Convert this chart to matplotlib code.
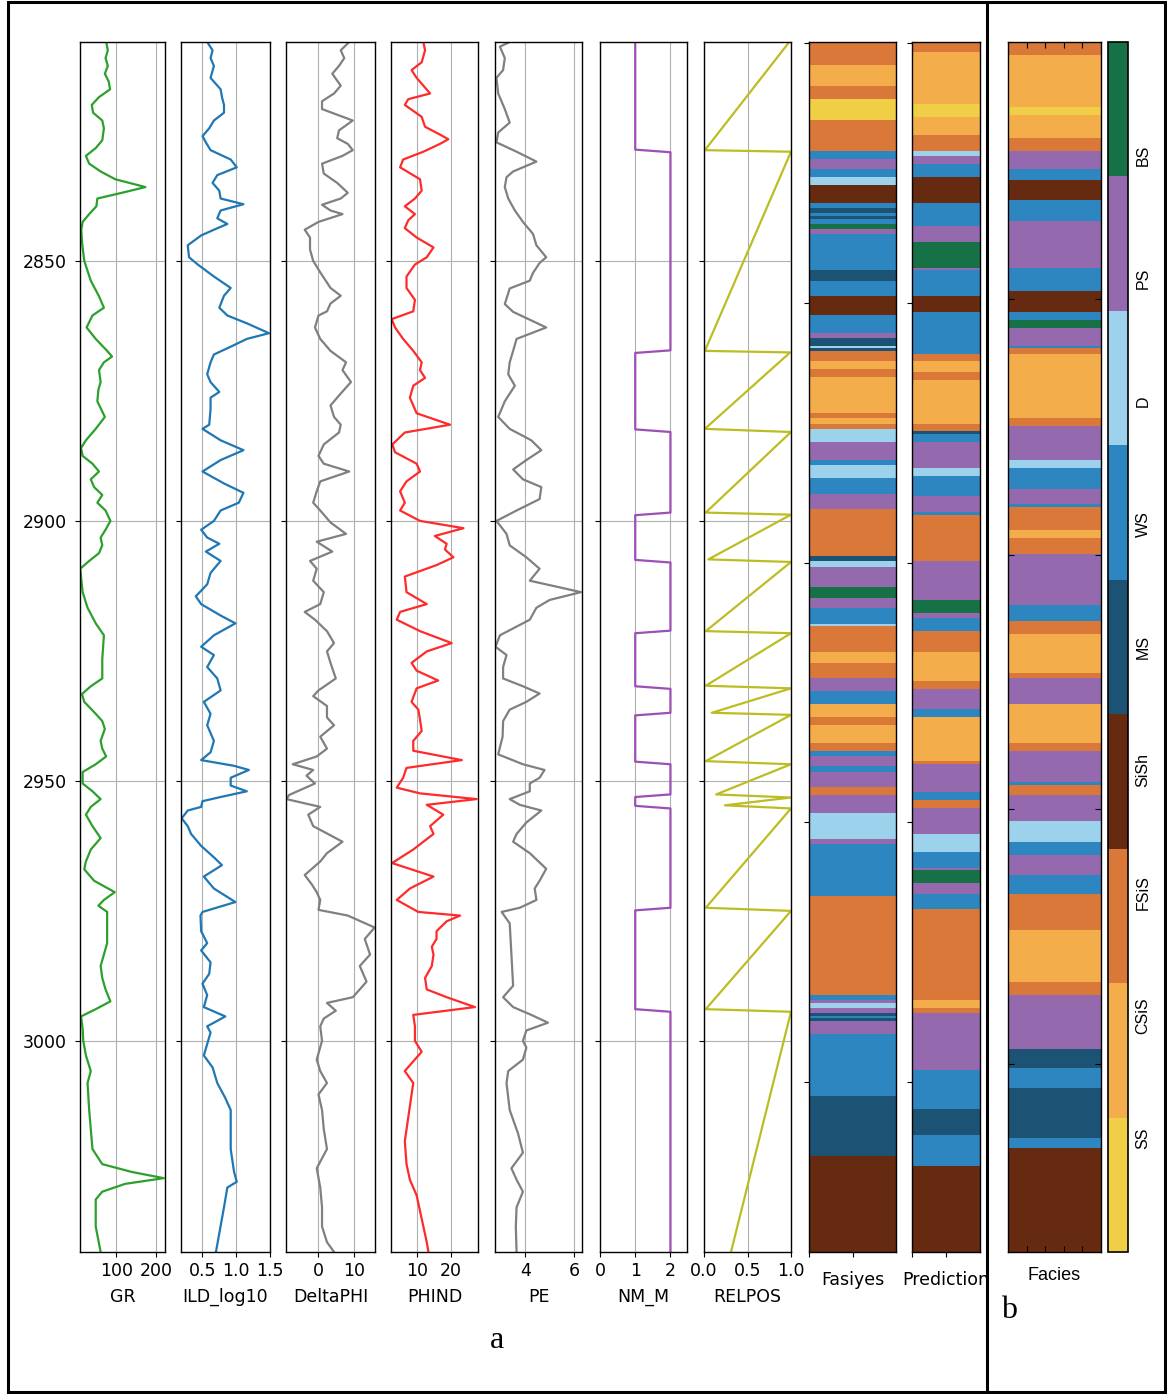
import numpy as np
import matplotlib
matplotlib.use("Agg")
import matplotlib.pyplot as plt
from matplotlib import colors
from matplotlib.lines import Line2D
from matplotlib.patches import Rectangle
from matplotlib.transforms import Bbox, TransformedBbox

W, H, DPI = 1167, 1394, 100
DEPTH_TOP, DEPTH_BOT = 2807.9, 3040.6
YTICKS = [2850, 2900, 2950, 3000]

FACIES_NAMES = ["SS", "CSiS", "FSiS", "SiSh", "MS", "WS", "D", "PS", "BS"]
FACIES_COLORS = ["#F0CE46", "#F3AD4B", "#DA783A", "#652A0F", "#1C5274",
                 "#2E86C1", "#9DD2EC", "#9569AE", "#167246"]

# ---- well logs (depth, value) ----
GR_DEPTH = [2807.9, 2809.5, 2811.0, 2812.5, 2814.0, 2815.5, 2817.0, 2818.5, 2820.0, 2821.5,
            2823.0, 2824.5, 2826.8, 2828.3, 2829.8, 2831.3, 2832.8, 2834.3, 2835.8, 2836.9,
            2838.0, 2839.5, 2841.0, 2842.5, 2844.0, 2846.3, 2850.0, 2853.8, 2856.8, 2859.0,
            2860.5, 2862.8, 2865.0, 2867.3, 2868.4, 2869.5, 2871.0, 2873.3, 2874.8, 2877.0,
            2880.0, 2882.3, 2884.5, 2886.0, 2887.5, 2889.0, 2890.5, 2892.0, 2893.5, 2895.0,
            2896.5, 2898.0, 2900.0, 2901.7, 2903.2, 2904.7, 2906.2, 2907.7, 2909.2, 2910.7,
            2913.7, 2916.7, 2919.7, 2922.0, 2926.6, 2930.3, 2931.8, 2933.3, 2934.8, 2937.1,
            2938.5, 2940.0, 2942.3, 2943.8, 2945.3, 2946.8, 2948.3, 2950.5, 2952.0, 2953.5,
            2955.0, 2956.5, 2958.7, 2961.0, 2963.2, 2965.5, 2967.0, 2969.2, 2971.4, 2972.9,
            2974.0, 2975.2, 2977.4, 2981.2, 2983.4, 2985.6, 2987.9, 2990.1, 2992.4, 2993.9,
            2995.3, 2997.6, 3000.0, 3002.8, 3005.8, 3008.1, 3013.3, 3020.8, 3023.7, 3025.2,
            3026.4, 3027.5, 3029.0, 3030.5, 3035.7, 3040.6]
GR = [74.6, 78.7, 73.0, 78.7, 71.3, 81.0, 84.4, 56.6, 38.5, 41.8,
      64.8, 68.9, 64.8, 48.4, 23.8, 32.0, 60.7, 97.5, 173.0, 114.0,
      52.5, 50.0, 32.0, 15.6, 12.3, 13.9, 19.7, 36.0, 56.6, 68.9,
      40.2, 25.5, 48.4, 77.0, 89.3, 68.9, 56.6, 60.7, 55.0, 52.5,
      71.3, 48.4, 23.8, 11.5, 15.6, 40.2, 56.6, 36.0, 44.3, 64.8,
      52.5, 73.0, 85.2, 73.0, 60.7, 64.8, 56.6, 32.0, 9.5, 11.5,
      15.6, 27.9, 48.4, 68.9, 64.8, 64.8, 36.0, 13.9, 19.7, 48.4,
      64.8, 71.3, 60.7, 64.8, 74.6, 48.4, 15.6, 15.6, 40.2, 60.7,
      36.0, 23.8, 40.2, 60.7, 36.0, 23.8, 19.7, 44.3, 96.0, 68.9,
      55.0, 77.0, 77.0, 77.0, 68.9, 60.7, 64.8, 73.0, 85.2, 48.4,
      11.5, 15.6, 17.2, 23.8, 36.0, 27.9, 32.0, 40.2, 64.8, 138.5,
      218.9, 122.0, 64.8, 48.4, 48.4, 60.7]

ILD_DEPTH = [2807.9, 2809.5, 2811.0, 2812.5, 2814.8, 2817.0, 2818.5, 2820.0, 2821.5, 2823.0,
             2824.5, 2826.0, 2827.2, 2828.7, 2830.5, 2832.0, 2833.5, 2835.0, 2836.5, 2838.0,
             2839.1, 2840.3, 2841.8, 2842.9, 2844.0, 2845.1, 2847.0, 2849.3, 2850.7, 2853.0,
             2855.2, 2856.7, 2859.0, 2860.5, 2862.0, 2863.9, 2865.0, 2866.5, 2868.0, 2869.5,
             2871.8, 2873.3, 2875.2, 2876.3, 2878.5, 2881.5, 2882.3, 2884.5, 2886.4, 2888.3,
             2890.5, 2892.8, 2894.6, 2896.5, 2898.0, 2900.0, 2901.7, 2903.2, 2904.4, 2905.9,
             2907.7, 2910.0, 2912.2, 2914.5, 2916.0, 2918.2, 2919.7, 2922.0, 2924.2, 2925.8,
             2928.1, 2930.3, 2932.6, 2934.8, 2937.1, 2939.3, 2942.3, 2944.5, 2946.0, 2947.1,
             2947.9, 2949.4, 2950.9, 2952.0, 2953.1, 2953.9, 2955.0, 2955.7, 2957.2, 2958.7,
             2960.2, 2962.5, 2964.7, 2966.2, 2968.4, 2970.7, 2973.3, 2975.2, 2975.9, 2978.9,
             2981.2, 2982.6, 2984.9, 2987.1, 2989.0, 2991.2, 2993.5, 2995.3, 2997.2, 2998.4,
             3000.6, 3002.8, 3005.1, 3008.1, 3011.0, 3013.3, 3020.8, 3025.2, 3027.1, 3028.2,
             3032.0, 3040.6]
ILD = [0.57, 0.65, 0.62, 0.67, 0.62, 0.77, 0.79, 0.82, 0.82, 0.67,
       0.60, 0.50, 0.55, 0.62, 0.92, 1.01, 0.72, 0.65, 0.75, 0.77,
       1.11, 0.77, 0.72, 0.87, 0.67, 0.48, 0.28, 0.30, 0.43, 0.67,
       0.92, 0.82, 0.75, 0.87, 1.16, 1.49, 1.16, 0.92, 0.67, 0.62,
       0.57, 0.62, 0.75, 0.62, 0.62, 0.60, 0.50, 0.77, 1.11, 0.77,
       0.50, 0.82, 1.11, 1.04, 0.77, 0.67, 0.48, 0.57, 0.75, 0.55,
       0.77, 0.62, 0.57, 0.40, 0.48, 0.77, 0.99, 0.67, 0.48, 0.67,
       0.57, 0.72, 0.77, 0.52, 0.62, 0.57, 0.67, 0.62, 0.48, 0.97,
       1.19, 0.92, 0.92, 1.16, 0.77, 0.50, 0.48, 0.28, 0.19, 0.28,
       0.33, 0.48, 0.67, 0.79, 0.52, 0.67, 0.99, 0.50, 0.47, 0.48,
       0.57, 0.48, 0.62, 0.60, 0.50, 0.57, 0.52, 0.84, 0.57, 0.62,
       0.57, 0.52, 0.65, 0.72, 0.84, 0.92, 0.92, 0.97, 1.01, 0.87,
       0.82, 0.70]

DPHI_DEPTH = [2807.9, 2809.5, 2811.0, 2812.5, 2814.0, 2816.3, 2817.8, 2819.3, 2820.8, 2823.0,
              2824.9, 2826.4, 2827.5, 2828.7, 2829.8, 2831.3, 2833.2, 2835.0, 2836.9, 2838.0,
              2839.2, 2840.3, 2841.0, 2842.5, 2844.0, 2845.5, 2847.8, 2850.0, 2852.2, 2855.2,
              2856.7, 2858.2, 2859.7, 2860.5, 2862.8, 2865.0, 2867.3, 2869.5, 2871.0, 2873.3,
              2875.5, 2877.8, 2880.0, 2881.5, 2883.0, 2885.3, 2887.5, 2889.0, 2890.5, 2892.4,
              2894.3, 2896.5, 2898.0, 2900.3, 2902.5, 2904.0, 2905.9, 2907.7, 2909.2, 2911.5,
              2913.7, 2916.0, 2917.5, 2919.0, 2921.2, 2923.5, 2925.1, 2927.3, 2930.3, 2932.6,
              2933.7, 2935.6, 2937.8, 2939.3, 2941.5, 2943.8, 2945.3, 2946.8, 2947.9, 2949.0,
              2950.5, 2952.7, 2953.5, 2955.0, 2956.5, 2958.7, 2961.7, 2963.9, 2965.5, 2968.1,
              2969.9, 2971.4, 2972.9, 2974.8, 2975.9, 2978.2, 2980.4, 2983.4, 2985.6, 2988.6,
              2990.1, 2991.6, 2992.7, 2994.2, 2995.7, 2997.2, 3000.0, 3003.6, 3005.8, 3008.1,
              3010.3, 3013.3, 3017.0, 3020.8, 3024.5, 3028.2, 3032.0, 3035.7, 3038.7, 3040.6]
DPHI = [8.7, 6.3, 7.3, 5.8, 3.9, 6.3, 4.4, 1.0, 1.0, 9.7,
        5.8, 5.3, 8.3, 9.7, 6.8, 1.0, 1.5, 5.3, 8.3, 6.3,
        1.0, 3.4, 6.8, 0.0, -3.9, -2.4, -2.4, -1.5, 0.5, 3.4,
        6.3, 3.4, 2.4, 0.0, -1.0, 0.5, 3.4, 7.8, 6.8, 9.2,
        6.3, 3.4, 4.4, 6.3, 5.8, 1.5, 0.0, 1.5, 8.7, 0.5,
        -0.5, -1.5, 0.5, 3.4, 7.8, -0.5, 3.9, -2.4, -0.5, -1.5,
        1.5, 0.5, -3.9, -1.0, 2.4, 4.4, 2.4, 3.4, 4.9, 0.0,
        -1.5, 2.4, 2.4, 4.4, 0.5, 2.4, -0.5, -7.3, -1.5, -3.4,
        -1.0, -8.3, -9.1, 0.5, -2.9, -1.5, 6.8, 2.4, 0.5, -3.9,
        -1.9, -0.5, 0.5, 0.0, 8.3, 15.9, 13.1, 14.6, 11.7, 13.6,
        11.7, 9.7, 2.4, 4.9, 1.5, 0.5, 1.0, -0.5, 0.5, 2.4,
        0.0, 1.0, 1.5, 2.4, -0.5, 0.5, 1.0, 1.0, 2.4, 4.4]

PHIND_DEPTH = [2807.9, 2809.5, 2811.8, 2813.3, 2814.8, 2816.3, 2817.8, 2818.9, 2820.0, 2822.3,
               2824.2, 2825.7, 2826.6, 2827.5, 2829.0, 2830.5, 2832.0, 2834.3, 2836.5, 2838.0,
               2839.5, 2841.0, 2842.2, 2843.7, 2845.5, 2847.4, 2849.3, 2850.7, 2853.0, 2855.2,
               2857.5, 2859.7, 2861.2, 2862.8, 2865.0, 2867.3, 2869.5, 2871.0, 2872.5, 2874.0,
               2876.3, 2879.3, 2881.5, 2883.0, 2885.3, 2886.8, 2889.0, 2890.5, 2892.4, 2894.3,
               2896.5, 2898.0, 2900.0, 2901.4, 2902.9, 2904.4, 2905.5, 2907.0, 2908.5, 2910.7,
               2913.7, 2916.0, 2917.5, 2919.0, 2921.2, 2923.5, 2925.1, 2927.3, 2928.8, 2930.7,
               2932.2, 2934.8, 2936.3, 2938.2, 2940.4, 2942.3, 2944.2, 2946.0, 2947.5, 2949.4,
               2951.3, 2952.4, 2953.5, 2954.6, 2956.5, 2958.7, 2960.2, 2963.2, 2965.8, 2968.4,
               2970.7, 2972.9, 2975.2, 2975.9, 2977.0, 2978.9, 2980.4, 2981.9, 2983.4, 2985.6,
               2987.9, 2990.1, 2991.6, 2993.5, 2995.0, 2997.2, 3000.0, 3002.1, 3004.3, 3005.8,
               3008.1, 3010.3, 3014.8, 3019.3, 3023.7, 3026.7, 3029.7, 3034.2, 3038.7, 3040.6]
PHIND = [11.8, 12.3, 11.3, 8.3, 9.8, 11.8, 13.8, 7.3, 6.3, 11.3,
         12.3, 16.7, 19.2, 16.7, 11.8, 5.8, 4.9, 10.8, 11.3, 9.3,
         6.3, 9.3, 7.3, 6.3, 9.8, 14.8, 12.8, 9.3, 6.8, 6.8,
         9.3, 8.8, 2.4, 3.4, 5.8, 8.8, 11.3, 10.8, 12.3, 8.8,
         7.8, 9.8, 19.7, 6.3, 2.6, 3.4, 9.8, 10.8, 6.8, 4.9,
         6.3, 4.9, 10.8, 23.7, 15.2, 18.7, 18.2, 20.7, 15.7, 6.3,
         6.8, 12.8, 4.9, 3.9, 10.8, 20.2, 12.8, 8.3, 9.8, 16.2,
         9.8, 8.3, 10.3, 10.8, 11.3, 8.8, 8.8, 23.2, 6.8, 5.8,
         3.9, 10.8, 27.6, 12.8, 17.7, 13.8, 14.8, 8.8, 2.5, 14.8,
         7.8, 3.9, 10.3, 22.7, 18.7, 15.7, 15.7, 14.3, 14.8, 14.3,
         12.3, 12.8, 18.7, 27.1, 8.8, 9.3, 9.3, 11.3, 8.3, 6.3,
         8.8, 8.3, 7.3, 6.3, 6.8, 7.8, 9.8, 11.3, 12.8, 13.3]

PE_DEPTH = [2807.9, 2808.8, 2811.0, 2813.3, 2814.8, 2817.8, 2820.8, 2823.4, 2825.3, 2827.2,
            2829.0, 2830.9, 2832.8, 2833.9, 2835.8, 2838.0, 2840.3, 2842.5, 2844.8, 2847.0,
            2849.3, 2850.4, 2852.3, 2853.8, 2855.3, 2858.3, 2859.8, 2862.8, 2865.0, 2867.3,
            2869.5, 2871.8, 2874.0, 2877.0, 2880.0, 2882.3, 2884.5, 2886.4, 2888.3, 2890.1,
            2892.0, 2893.5, 2895.8, 2898.0, 2900.0, 2902.5, 2904.7, 2907.0, 2909.2, 2911.5,
            2913.7, 2915.2, 2916.7, 2919.0, 2922.0, 2924.2, 2925.8, 2928.1, 2930.3, 2931.8,
            2933.2, 2934.8, 2936.3, 2938.5, 2941.5, 2944.9, 2946.8, 2947.9, 2949.4, 2950.5,
            2952.0, 2953.5, 2954.6, 2955.7, 2958.0, 2960.2, 2961.7, 2963.9, 2966.9, 2969.2,
            2970.7, 2972.9, 2974.4, 2975.2, 2977.4, 2983.4, 2989.4, 2991.6, 2993.5, 2995.0,
            2996.5, 2998.0, 3000.0, 3001.3, 3003.6, 3005.8, 3008.1, 3013.3, 3017.8, 3021.5,
            3024.5, 3026.7, 3029.0, 3032.0, 3035.7, 3040.6]
PE = [3.36, 2.96, 3.16, 3.09, 2.82, 2.89, 3.16, 3.36, 2.89, 2.82,
      3.64, 4.45, 3.50, 3.23, 3.16, 3.30, 3.57, 3.90, 4.31, 4.45,
      4.85, 4.58, 4.31, 4.18, 3.36, 3.16, 3.50, 4.85, 3.64, 3.50,
      3.36, 3.30, 3.57, 3.16, 2.89, 3.36, 4.24, 4.65, 4.04, 3.50,
      3.90, 4.65, 4.58, 3.64, 2.82, 3.23, 3.36, 4.04, 4.58, 4.18,
      6.27, 4.99, 4.45, 4.18, 2.96, 2.78, 3.23, 3.09, 3.09, 3.90,
      4.58, 4.04, 3.36, 3.09, 3.07, 2.89, 3.90, 4.78, 4.58, 4.18,
      4.18, 3.36, 3.77, 4.65, 4.04, 3.64, 3.50, 4.18, 4.85, 4.58,
      4.38, 4.45, 3.77, 3.03, 3.36, 3.43, 3.50, 3.09, 3.50, 4.24,
      4.92, 4.04, 3.90, 4.04, 3.90, 3.30, 3.23, 3.36, 3.70, 3.90,
      3.43, 3.64, 3.90, 3.64, 3.61, 3.64]

NM_M_DEPTH = [2807.9, 2828.6, 2829.1, 2867.2, 2867.7, 2882.4, 2882.9, 2898.4, 2898.9, 2907.5,
              2908.0, 2921.1, 2921.6, 2931.8, 2932.3, 2936.9, 2937.4, 2946.3, 2946.8, 2952.6,
              2953.1, 2954.8, 2955.3, 2974.4, 2974.9, 2993.9, 2994.4, 3040.6]
NM_M = [1, 1, 2, 2, 1, 1, 2, 2, 1, 1,
        2, 2, 1, 1, 2, 2, 1, 1, 2, 2,
        1, 1, 2, 2, 1, 1, 2, 2]

RELPOS_DEPTH = [2807.9, 2828.7, 2829.0, 2867.3, 2867.6, 2882.3, 2882.9, 2898.4, 2898.8, 2907.4,
                2907.9, 2921.2, 2921.6, 2931.7, 2932.2, 2936.9, 2937.3, 2946.2, 2946.8, 2952.6,
                2953.2, 2954.7, 2955.3, 2974.4, 2975.0, 2993.9, 2994.4, 3040.6]
RELPOS = [0.98, 0.01, 1.0, 0.01, 0.99, 0.01, 1.0, 0.02, 1.0, 0.05,
          1.0, 0.02, 1.0, 0.02, 1.0, 0.09, 1.0, 0.02, 1.0, 0.14,
          1.0, 0.24, 1.0, 0.02, 1.0, 0.02, 1.0, 0.31]

# ---- facies columns: top depth of each band and its facies code (1=SS ... 9=BS) ----
FASIYES_TOP = [2807.9, 2812.1, 2816.0, 2818.6, 2822.5, 2828.9, 2830.1, 2832.2, 2833.5, 2835.0,
               2838.6, 2839.9, 2840.5, 2841.2, 2841.7, 2842.5, 2843.5, 2844.7, 2851.7, 2853.5,
               2856.7, 2860.0, 2863.6, 2864.6, 2866.0, 2866.7, 2867.0, 2869.2, 2870.8, 2872.1,
               2879.3, 2880.3, 2881.1, 2882.1, 2884.6, 2888.2, 2889.3, 2891.8, 2894.6, 2897.8,
               2906.7, 2907.6, 2908.8, 2912.8, 2914.9, 2916.6, 2919.9, 2920.2, 2925.3, 2927.4,
               2930.3, 2932.7, 2935.2, 2937.8, 2939.1, 2942.8, 2944.2, 2945.2, 2947.4, 2948.4,
               2951.0, 2952.7, 2956.2, 2961.2, 2962.0, 2972.0, 2991.3, 2992.0, 2992.9, 2993.6,
               2994.7, 2995.2, 2995.6, 2996.2, 2998.7, 3010.5, 3022.3]
FASIYES = [3, 2, 3, 1, 3, 6, 8, 6, 7, 4,
           6, 5, 6, 5, 6, 9, 8, 6, 5, 6,
           4, 6, 8, 5, 7, 5, 3, 2, 3, 2,
           3, 2, 3, 7, 8, 6, 7, 6, 8, 3,
           5, 7, 8, 9, 8, 6, 7, 3, 2, 3,
           8, 6, 2, 3, 2, 3, 6, 8, 6, 8,
           3, 8, 7, 8, 6, 3, 6, 8, 7, 8,
           5, 6, 5, 8, 6, 5, 4]

PRED_TOP = [2807.9, 2809.8, 2819.6, 2822.1, 2825.7, 2828.9, 2829.6, 2831.0, 2833.9, 2838.5,
            2843.2, 2846.1, 2851.0, 2851.7, 2856.7, 2859.9, 2867.8, 2869.4, 2871.0, 2872.8,
            2881.0, 2882.7, 2883.2, 2884.6, 2889.6, 2891.4, 2895.2, 2898.2, 2898.9, 2907.8,
            2915.3, 2917.8, 2918.9, 2921.4, 2925.3, 2930.6, 2932.4, 2936.4, 2937.5, 2946.1,
            2946.6, 2952.4, 2953.5, 2955.2, 2960.3, 2963.7, 2966.9, 2967.4, 2969.8, 2971.9,
            2974.8, 2992.0, 2993.7, 2994.5, 3005.5, 3013.0, 3018.3, 3024.1]
PRED = [3, 2, 1, 2, 3, 7, 8, 6, 4, 6,
        8, 9, 8, 6, 4, 6, 3, 2, 3, 2,
        3, 5, 6, 8, 7, 6, 8, 6, 3, 8,
        9, 8, 6, 3, 2, 3, 8, 6, 2, 3,
        8, 6, 3, 8, 7, 6, 8, 9, 8, 6,
        3, 2, 3, 8, 6, 5, 6, 4]

FACIES_B_TOP = [2807.9, 2810.0, 2820.0, 2821.7, 2826.3, 2828.8, 2832.4, 2834.1, 2838.1, 2842.2,
                2851.0, 2855.9, 2859.7, 2861.2, 2862.6, 2866.3, 2866.7, 2867.7, 2880.0, 2881.5,
                2888.3, 2889.8, 2893.8, 2896.8, 2897.2, 2901.6, 2903.1, 2906.2, 2916.4, 2919.4,
                2921.6, 2929.1, 2930.2, 2935.0, 2935.4, 2942.9, 2944.3, 2950.2, 2950.6, 2952.7,
                2957.7, 2961.7, 2964.4, 2968.4, 2971.9, 2978.7, 2988.9, 2991.1, 3001.7, 3005.2,
                3009.2, 3018.9, 3020.8]
FACIES_B = [3, 2, 1, 2, 3, 8, 6, 4, 6, 8,
            6, 4, 6, 9, 8, 6, 3, 2, 3, 8,
            7, 6, 8, 6, 3, 2, 3, 8, 6, 3,
            2, 3, 8, 6, 2, 3, 8, 6, 3, 8,
            7, 6, 8, 6, 3, 2, 3, 8, 5, 6,
            5, 6, 4]

plt.rcParams.update({
    "font.family": "DejaVu Sans",
    "font.size": 12.5,
    "axes.linewidth": 1.0,
})

cmap = colors.ListedColormap(FACIES_COLORS)
depth_rows = DEPTH_TOP + 0.5 * np.arange(466)


def column(tops, codes):
    idx = np.searchsorted(tops, depth_rows, side="right") - 1
    return np.asarray(codes)[idx]


def frame(x0, x1, y0=42, y1=1252):
    return [x0 / W, 1 - y1 / H, (x1 - x0) / W, (y1 - y0) / H]


fig = plt.figure(figsize=(W / DPI, H / DPI), dpi=DPI)

logs = [
    ("GR", GR_DEPTH, GR, "#2ca02c", (9, 222), [100, 200], (80, 165)),
    ("ILD_log10", ILD_DEPTH, ILD, "#1f77b4", (0.18, 1.505), [0.5, 1.0, 1.5], (181, 270)),
    ("DeltaPHI", DPHI_DEPTH, DPHI, "0.5", (-9.2, 16.0), [0, 10], (286, 375)),
    ("PHIND", PHIND_DEPTH, PHIND, "#ff2a2a", (2.2, 28.0), [10, 20], (391, 478)),
    ("PE", PE_DEPTH, PE, "0.5", (2.76, 6.31), [4, 6], (495, 582)),
    ("NM_M", NM_M_DEPTH, NM_M, "#9c4fb5", (0, 2.47), [0, 1, 2], (600, 687)),
    ("RELPOS", RELPOS_DEPTH, RELPOS, "#bcbd22", (0, 1.0), [0.0, 0.5, 1.0], (704, 791)),
]

for i, (name, dep, val, col, xlim, xt, (x0, x1)) in enumerate(logs):
    ax = fig.add_axes(frame(x0, x1))
    ax.plot(val, dep, "-", color=col, lw=1.6)
    ax.set_ylim(DEPTH_BOT, DEPTH_TOP)
    ax.set_xlim(*xlim)
    ax.set_xticks(xt)
    ax.set_yticks(YTICKS)
    ax.grid(True)
    if i > 0:
        ax.set_yticklabels([])
    else:
        ax.tick_params(axis="y", pad=6)
    ax.set_xlabel(name, labelpad=6)

# true and predicted facies columns
for name, tops, codes, (x0, x1) in [("Fasiyes", FASIYES_TOP, FASIYES, (809, 896)),
                                     ("Prediction", PRED_TOP, PRED, (912, 980))]:
    ax = fig.add_axes(frame(x0, x1))
    cluster = np.repeat(column(tops, codes)[:, None], 100, axis=1)
    ax.imshow(cluster, interpolation="none", aspect="auto", cmap=cmap, vmin=1, vmax=9)
    ax.set_yticks([0, 100, 200, 300, 400])
    ax.set_xticks([0, 50])
    ax.set_yticklabels([])
    ax.set_xticklabels([])
    lab = ax.set_xlabel(name, labelpad=7)
    if name == "Prediction":
        lab.set_clip_box(TransformedBbox(Bbox.from_extents(0, 0, 987 / W, 1), fig.transFigure))
        lab.set_clip_on(True)

# panel b: facies with colour bar
axb = fig.add_axes(frame(1008, 1101))
cluster = np.repeat(column(FACIES_B_TOP, FACIES_B)[:, None], 100, axis=1)
im = axb.imshow(cluster, interpolation="none", aspect="auto", cmap=cmap, vmin=1, vmax=9,
                extent=[0, 1, DEPTH_BOT, DEPTH_TOP])
axb.set_xticks([0.2, 0.4, 0.6, 0.8])
axb.set_yticks([2857.3, 2906.5, 2955.4, 3004.4])
axb.tick_params(direction="in", top=True, right=True, labelbottom=False, labelleft=False,
                length=4)
axb.set_xlabel("Facies", family="Liberation Sans", fontsize=13, labelpad=11)

cax = fig.add_axes(frame(1108, 1128))
cb = fig.colorbar(im, cax=cax)
cb.set_ticks([])
cb.minorticks_off()
cb.outline.set_linewidth(1.2)
for name, pos in zip(FACIES_NAMES, np.linspace(0.094, 0.906, 9)):
    cax.text(1.75, pos, name, transform=cax.transAxes, rotation=90, ha="center", va="center",
             family="Liberation Sans", fontsize=11.5)

# frame, divider and panel letters
fig.add_artist(Rectangle((8 / W, 2 / H), 1157 / W, 1390 / H, transform=fig.transFigure,
                         fill=False, edgecolor="black", lw=2.2))
fig.add_artist(Line2D([987 / W, 987 / W], [2 / H, 1392 / H], transform=fig.transFigure,
                      color="black", lw=2.2))
fig.text(497 / W, 1 - 1340 / H, "a", ha="center", va="center", family="Liberation Serif",
         fontsize=23)
fig.text(1009 / W, 1 - 1310 / H, "b", ha="center", va="center", family="Liberation Serif",
         fontsize=23)

fig.savefig("out.png", dpi=DPI)
